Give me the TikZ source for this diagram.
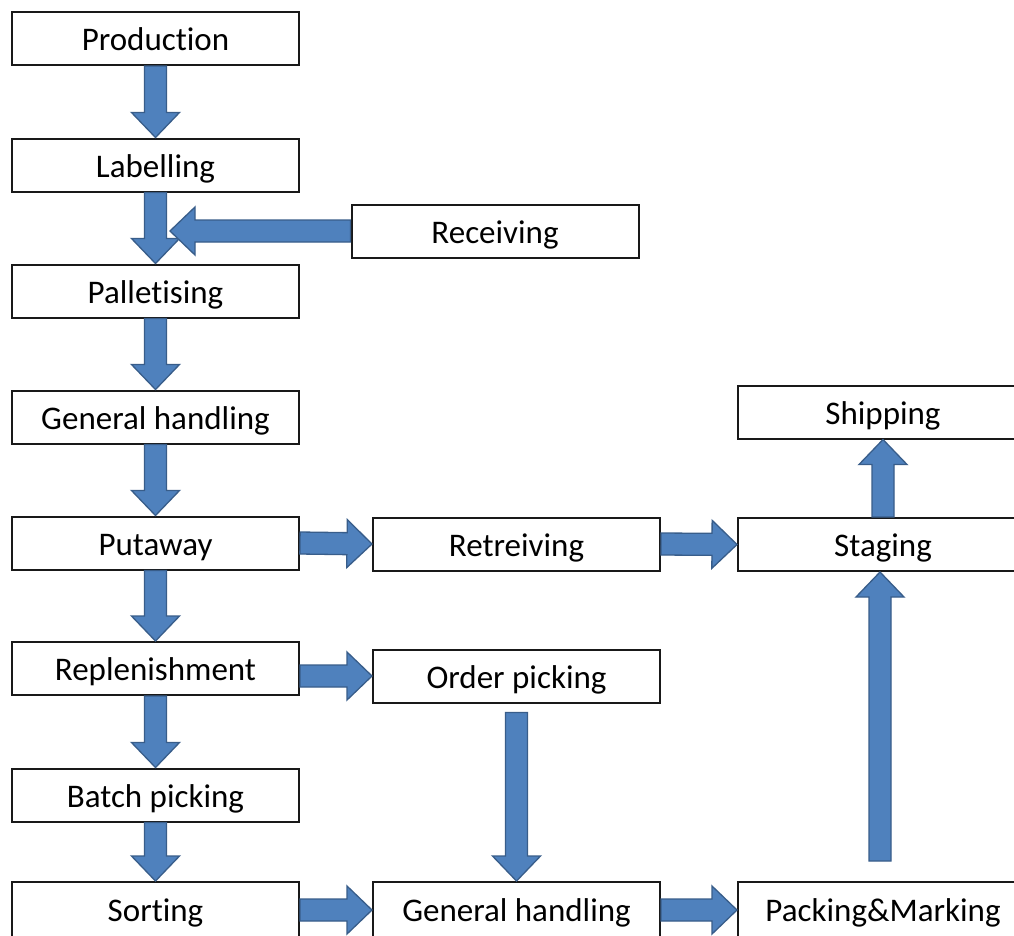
\documentclass[tikz,border=0pt]{standalone}
\usepackage{fontspec}
\setmainfont{Carlito}[Ligatures=NoCommon]
\usetikzlibrary{calc,positioning}
\definecolor{flowblue}{RGB}{79,129,189}
\definecolor{flowedge}{RGB}{56,93,138}
\tikzset{
  stage/.style={rectangle,draw=black!90,line width=2pt,fill=white,
                minimum width=287pt,minimum height=53pt,inner sep=0pt,
                text height=27pt,text depth=3pt,
                font=\fontsize{33}{40}\selectfont},
  wide/.style={minimum width=290pt},
  cut/.style={minimum height=62pt,text depth=11pt},
  blk/.style={fill=flowblue,draw=flowedge,line width=1.3pt,line join=miter},
}
% block arrow from #1 to #2 (tip at #2)
\newcommand{\blkarrow}[2]{%
  \draw[blk] let \p1=(#1), \p2=(#2),
      \n1={veclen(\x2-\x1,\y2-\y1)}, \n2={atan2(\y2-\y1,\x2-\x1)} in
    [shift={(\p1)}, rotate=\n2]
    (0pt,-11pt) -- (\n1-25pt,-11pt) -- (\n1-25pt,-24pt) -- (\n1,0pt)
    -- (\n1-25pt,24pt) -- (\n1-25pt,11pt) -- (0pt,11pt) -- cycle;}

\begin{document}
\begin{tikzpicture}[x=1pt,y=-1pt]
  \useasboundingbox (0,0) rectangle (1014,935);
  \clip (0,0) rectangle (1014,935);
  \fill[white] (0,0) rectangle (1014,935);
  % left column
  \node[stage] (prod) at (155.5,38.5)  {Production};
  \node[stage] (lab)  at (155.5,165)   {Labelling};
  \node[stage] (pal)  at (155.5,291)   {Palletising};
  \node[stage] (gh1)  at (155.5,417)   {General handling};
  \node[stage] (put)  at (155.5,543)   {Putaway};
  \node[stage] (rep)  at (155.5,668.5) {Replenishment};
  \node[stage] (bat)  at (155.5,795)   {Batch picking};
  \node[stage,cut] (sort) at (155.5,913) {Sorting};
  % middle and right
  \node[stage] (rec)  at (495,231)     {Receiving};
  \node[stage] (ret)  at (516.5,544)   {Retreiving};
  \node[stage] (ord)  at (516.5,676)   {Order picking};
  \node[stage,cut] (gh2)  at (516.5,913) {General handling};
  \node[stage,wide] (ship) at (883,412)   {Shipping};
  \node[stage,wide] (stag) at (883,544.5) {Staging};
  \node[stage,wide,cut] (pack) at (883,913) {Packing\&Marking};
  % arrows
  \foreach \a/\b in {prod/lab, lab/pal, pal/gh1, gh1/put, put/rep, rep/bat, bat/sort}
    \blkarrow{\a.south}{\b.north};
  \coordinate (recin) at (170,231);
  \blkarrow{rec.west}{recin};
  \blkarrow{put.east}{ret.west};
  \blkarrow{ret.east}{stag.west};
  \blkarrow{rep.east |- ord.west}{ord.west};
  \blkarrow{sort.east |- 0,910}{gh2.west |- 0,910};
  \blkarrow{gh2.east |- 0,910}{pack.west |- 0,910};
  \blkarrow{$(ord.south)+(0,9)$}{gh2.north};
  \blkarrow{stag.north}{ship.south};
  \blkarrow{$(pack.north)+(-3,-20)$}{$(stag.south)+(-3,0)$};
\end{tikzpicture}
\end{document}
